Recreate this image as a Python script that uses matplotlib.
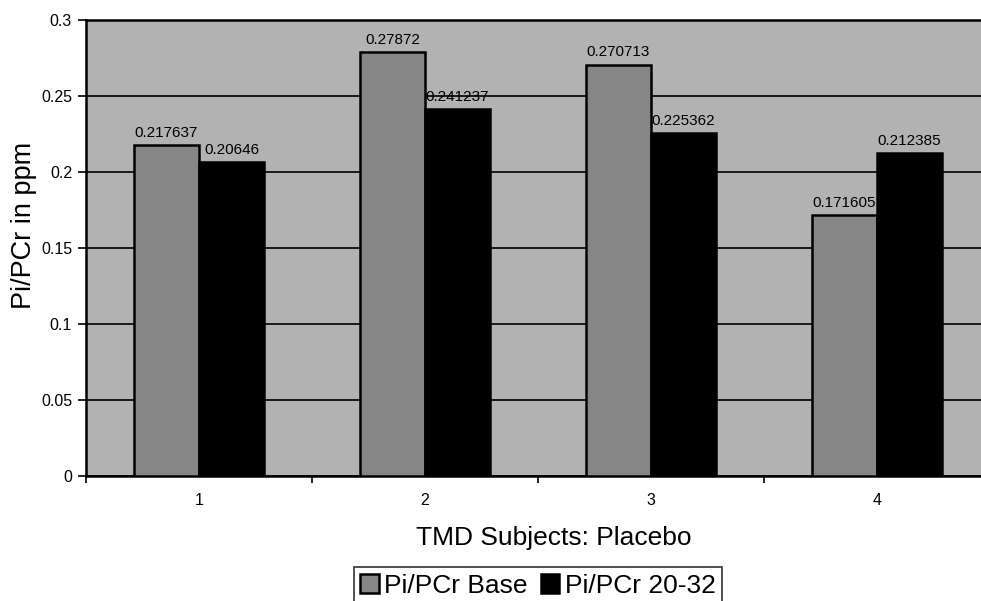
import numpy as np
import matplotlib.pyplot as plt

plt.rcParams['font.family'] = ['Liberation Sans', 'DejaVu Sans']

# ── Data ──────────────────────────────────────────────────────
subjects = ["1", "2", "3", "4"]
pi_pcr_base = [0.217637, 0.27872, 0.270713, 0.171605]
pi_pcr_2032 = [0.20646, 0.241237, 0.225362, 0.212385]
base_labels = ["0.217637", "0.27872", "0.270713", "0.171605"]
post_labels = ["0.20646", "0.241237", "0.225362", "0.212385"]
y_ticks = [0, 0.05, 0.1, 0.15, 0.2, 0.25, 0.3]
y_ticklabels = ["0", "0.05", "0.1", "0.15", "0.2", "0.25", "0.3"]

fig = plt.figure(figsize=(9.81, 6.01), dpi=100)
ax = fig.add_axes([86 / 981, 125 / 601, 904 / 981, 456 / 601])
ax.set_facecolor("#b2b2b2")

x = np.arange(len(subjects))
w = 0.288
bars_base = ax.bar(x - w / 2, pi_pcr_base, w, color="#868686",
                   edgecolor="black", linewidth=1.8, label="Pi/PCr Base", zorder=3)
bars_post = ax.bar(x + w / 2, pi_pcr_2032, w, color="black",
                   edgecolor="black", linewidth=1.8, label="Pi/PCr 20-32", zorder=3)

# value labels above each bar
for bars, labels in [(bars_base, base_labels), (bars_post, post_labels)]:
    for rect, txt in zip(bars, labels):
        ax.annotate(txt, (rect.get_x() + rect.get_width() / 2, rect.get_height()),
                    xytext=(0, 4), textcoords="offset points",
                    ha="center", va="bottom", fontsize=11, zorder=4)

ax.set_ylim(0, 0.3)
ax.set_xlim(-0.5, len(subjects) - 0.5)
ax.set_yticks(y_ticks)
ax.set_yticklabels(y_ticklabels, fontsize=11.5)
ax.yaxis.grid(True, color="black", linewidth=1.2, zorder=1)
ax.set_axisbelow(True)

# category labels centred, tick marks on the category boundaries
ax.set_xticks(x)
ax.set_xticklabels(subjects, fontsize=11.5)
ax.tick_params(axis="x", which="major", length=0, pad=12)
ax.set_xticks(np.arange(len(subjects) + 1) - 0.5, minor=True)
ax.tick_params(axis="x", which="minor", length=5, width=1.2, direction="out")
ax.tick_params(axis="y", length=6, width=1.2, direction="out", pad=4)

for side in ["left", "bottom", "top"]:
    ax.spines[side].set_linewidth(1.8)
ax.spines["right"].set_visible(False)

ax.set_ylabel("Pi/PCr in ppm", fontsize=19.5)
ax.yaxis.set_label_coords(-0.054, 0.55)
ax.set_xlabel("TMD Subjects: Placebo", fontsize=19)
ax.xaxis.set_label_coords(0.517, -0.11)

leg = fig.legend(handles=[bars_base, bars_post], loc="upper center",
                 bbox_to_anchor=(538 / 981, 1 - 567 / 601), ncol=2,
                 fontsize=19, frameon=True, fancybox=False,
                 handlelength=0.7, handleheight=0.7, handletextpad=0.2,
                 columnspacing=0.5, borderpad=0.25, borderaxespad=0)
leg.get_frame().set_edgecolor("black")
leg.get_frame().set_linewidth(1.2)

plt.savefig("out.png", dpi=100)
